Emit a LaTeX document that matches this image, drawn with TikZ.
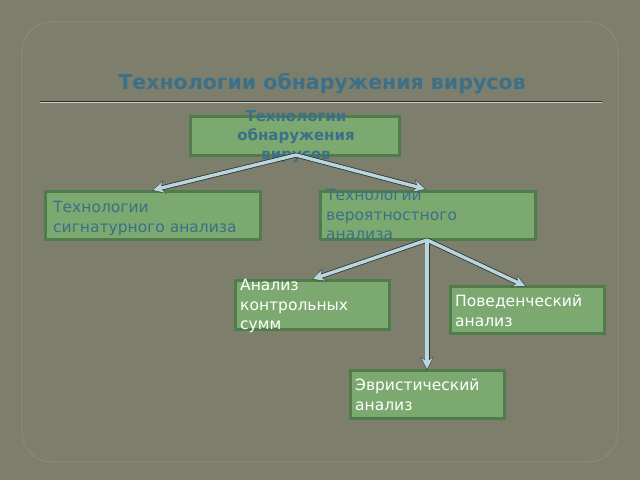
\documentclass[tikz,border=0pt]{standalone}
\usepackage{fontspec}
\setmainfont{DejaVu Sans}
\usetikzlibrary{arrows.meta}
\definecolor{bg}{HTML}{7E7E6C}
\definecolor{panel}{HTML}{8A8A7A}
\definecolor{boxfill}{HTML}{7BA96F}
\definecolor{boxline}{HTML}{4F7C4A}
\definecolor{teal}{HTML}{3C7089}
\definecolor{arr}{HTML}{B8D6DE}
\tikzset{
  box/.style={draw=boxline,line width=3pt,fill=boxfill,inner sep=0pt},
  txt/.style={font=\fontsize{15.5}{19.5}\selectfont,align=left,anchor=north west,inner sep=0pt},
  arrw/.style={draw=arr,line width=3.4pt,-{Stealth[length=11pt,width=11pt]}},
  arrwo/.style={draw=gray!40!black,line width=5pt,-{Stealth[length=13pt,width=13pt]}}
}
\begin{document}
\begin{tikzpicture}[x=1pt,y=-1pt]
\fill[bg] (0,0) rectangle (640,480);
\useasboundingbox (0,0) rectangle (640,480);
\draw[panel,line width=1pt,rounded corners=30pt] (22,22) rectangle (618,462);
\node[font=\bfseries\fontsize{20.5}{24}\selectfont,text=teal] (title) at (322,84) {Технологии обнаружения вирусов};
\draw[gray!35!black,line width=0.8pt] (40,101) -- (602,101);
\draw[white!60!bg,line width=0.6pt] (40,102.5) -- (602,102.5);

\path[box] (190,116) rectangle (399,155);
\node[font=\bfseries\fontsize{15}{19}\selectfont,text=teal,align=center] (top) at (296,137) {Технологии\\обнаружения\\вирусов};
\path[box] (45,191) rectangle (260,239);
\node[txt,text=teal] (sig) at (53,201) {Технологии\\сигнатурного анализа};
\path[box] (320,191) rectangle (535,239);
\node[txt,text=teal] (ver) at (326,189) {Технологии\\вероятностного\\анализа};
\path[box] (235,280) rectangle (389,329);
\node[txt,text=white] (ks) at (240,279) {Анализ\\контрольных\\сумм};
\path[box] (450,286) rectangle (604,333);
\node[txt,text=white] (pov) at (455,295) {Поведенческий\\анализ};
\path[box] (350,370) rectangle (504,418);
\node[txt,text=white] (evr) at (355,379) {Эвристический\\анализ};

\coordinate (a0) at (296,155);
\coordinate (a1) at (153,190);
\coordinate (a2) at (425,189);
\coordinate (b0) at (427,240);
\coordinate (b1) at (313,279);
\coordinate (b2) at (525,286);
\coordinate (b3) at (427,369);
\foreach \s/\e in {a0/a1,a0/a2,b0/b1,b0/b2,b0/b3}{
  \draw[arrwo,shorten >=-1pt] (\s) -- (\e);
}
\foreach \s/\e in {a0/a1,a0/a2,b0/b1,b0/b2,b0/b3}{
  \draw[arrw] (\s) -- (\e);
}
\end{tikzpicture}
\end{document}
